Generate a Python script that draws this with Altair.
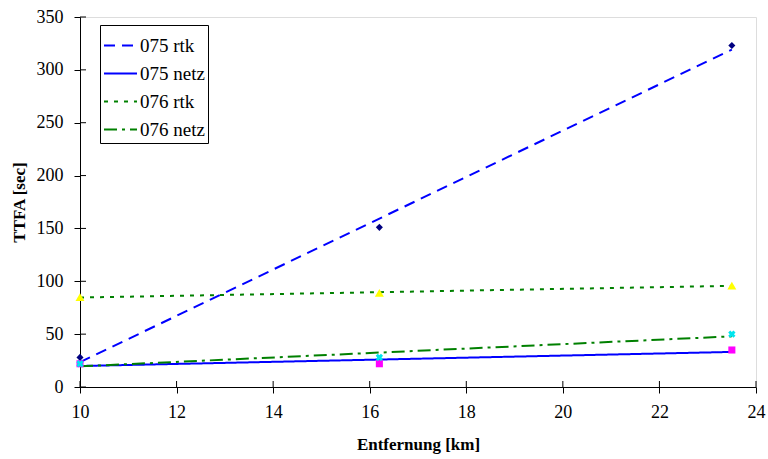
import altair as alt
import pandas as pd

# Distance to reference station [km]
distance = [10, 16.2, 23.5]

# Time to first ambiguity fix [sec] per receiver / correction mode
ttfa_075_rtk = [28, 151, 323]
ttfa_075_netz = [22, 22, 35]
ttfa_076_rtk = [85, 89, 96]
ttfa_076_netz = [22, 28, 50]

series_names = ["075 rtk", "075 netz", "076 rtk", "076 netz"]
line_colors = ["#0000FF", "#0000FF", "#008000", "#008000"]
line_dashes = [[11, 7], [1, 0], [4, 6], [13, 5, 3, 5]]

x_ticks = [10, 12, 14, 16, 18, 20, 22, 24]
y_ticks = [0, 50, 100, 150, 200, 250, 300, 350]

rows = []
for name, vals in zip(series_names, [ttfa_075_rtk, ttfa_075_netz, ttfa_076_rtk, ttfa_076_netz]):
    for d, v in zip(distance, vals):
        rows.append({"Entfernung": d, "TTFA": v, "Serie": name})
df = pd.DataFrame(rows)

W, H = 676, 370
FONT = "Liberation Serif"

x_scale = alt.Scale(domain=[10, 24], nice=False)
y_scale = alt.Scale(domain=[0, 350], nice=False)

x_axis = alt.Axis(values=x_ticks, title="Entfernung [km]", grid=False, labelFlush=False,
                  labelFontSize=18, titleFontSize=17, titleFontWeight="bold",
                  labelFont=FONT, titleFont=FONT, tickSize=6, labelPadding=10,
                  domainColor="black", tickColor="black", labelColor="black",
                  titleColor="black", titleY=57, titleBaseline="middle")
y_axis = alt.Axis(values=y_ticks, title="TTFA [sec]", grid=False, labelFlush=False,
                  labelFontSize=18, titleFontSize=17, titleFontWeight="bold",
                  labelFont=FONT, titleFont=FONT, tickSize=6, labelPadding=11,
                  domainColor="black", tickColor="black", labelColor="black",
                  titleColor="black", titleX=-61, titleY=H / 2,
                  titleBaseline="middle", titleAngle=-90)

legend = alt.Legend(
    title=None, orient="none", legendX=20, legendY=8,
    strokeColor="black", fillColor="white", padding=3,
    symbolType="stroke", symbolSize=1089, symbolStrokeWidth=2,
    labelFont=FONT, labelFontSize=19, labelColor="black",
    rowPadding=-9, labelOffset=2, cornerRadius=0,
)

# Linear trend lines per series
trend = alt.Chart(df).transform_regression(
    "Entfernung", "TTFA", groupby=["Serie"]
).mark_line(strokeWidth=2).encode(
    x=alt.X("Entfernung:Q", scale=x_scale, axis=x_axis),
    y=alt.Y("TTFA:Q", scale=y_scale, axis=y_axis),
    color=alt.Color("Serie:N", scale=alt.Scale(domain=series_names, range=line_colors),
                    sort=series_names, legend=legend),
    strokeDash=alt.StrokeDash("Serie:N", scale=alt.Scale(domain=series_names, range=line_dashes),
                              sort=series_names, legend=legend),
)


def markers(series, **mark_kw):
    return alt.Chart(df).transform_filter(
        alt.datum.Serie == series
    ).mark_point(opacity=1, **mark_kw).encode(
        x=alt.X("Entfernung:Q", scale=x_scale),
        y=alt.Y("TTFA:Q", scale=y_scale),
    )


pts_075_rtk = markers("075 rtk", shape="diamond", filled=True, size=50, color="#000080")
pts_075_netz = markers("075 netz", shape="square", filled=True, size=50, color="#FF00FF")
pts_076_rtk = markers("076 rtk", shape="triangle-up", filled=True, size=80, color="#FFFF00")
pts_076_netz = markers("076 netz", shape="cross", angle=45, filled=True, size=55, color="#00E5EE")

# Inner halves of the crossing tick marks
x_tick_df = pd.DataFrame({"Entfernung": x_ticks})
y_tick_df = pd.DataFrame({"TTFA": y_ticks})
x_inner = alt.Chart(x_tick_df).mark_rule(color="black", strokeWidth=1).encode(
    x=alt.X("Entfernung:Q", scale=x_scale),
    y=alt.value(H), y2=alt.value(H - 6),
)
y_inner = alt.Chart(y_tick_df).mark_rule(color="black", strokeWidth=1).encode(
    y=alt.Y("TTFA:Q", scale=y_scale),
    x=alt.value(0), x2=alt.value(6),
)

chart = alt.layer(
    trend, pts_075_rtk, pts_075_netz, pts_076_rtk, pts_076_netz, x_inner, y_inner
).properties(
    width=W, height=H,
    autosize=alt.AutoSizeParams(type="none"),
    padding={"left": 80, "top": 17, "right": 12, "bottom": 72},
).configure_view(stroke=None).configure(background="white", font=FONT)

chart.save("out.html", embed_options={"renderer": "svg", "actions": False})
